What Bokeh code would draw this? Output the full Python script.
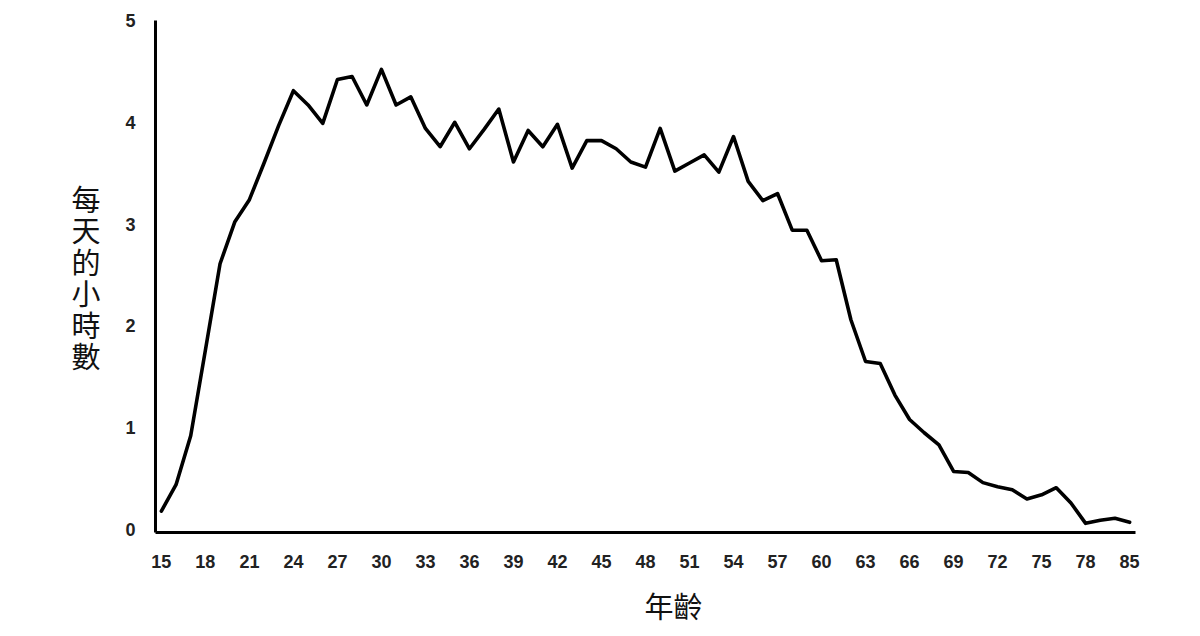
from bokeh.plotting import figure
from bokeh.models import Range1d, FixedTicker, Title
from bokeh.embed import file_html
from bokeh.resources import INLINE

# Data: ages (categories) and hours per day
ages = list(range(15, 81)) + [85]
hours = [
    0.18, 0.44, 0.92, 1.76, 2.61, 3.02, 3.24, 3.60, 3.97, 4.31,
    4.17, 3.99, 4.42, 4.45, 4.17, 4.52, 4.17, 4.25, 3.94, 3.76,
    4.00, 3.74, 3.93, 4.13, 3.61, 3.92, 3.76, 3.98, 3.55, 3.82,
    3.82, 3.74, 3.61, 3.56, 3.94, 3.52, 3.60, 3.68, 3.51, 3.86,
    3.42, 3.23, 3.30, 2.94, 2.94, 2.64, 2.65, 2.06, 1.65, 1.63,
    1.32, 1.08, 0.95, 0.83, 0.57, 0.56, 0.46, 0.42, 0.39, 0.30,
    0.34, 0.41, 0.26, 0.06, 0.09, 0.11, 0.07,
]
y_ticks = [0, 1, 2, 3, 4, 5]
x_label = "年齡"
y_label = "每天的小時數"

idx = list(range(len(ages)))
x_tick_idx = idx[::3]

p = figure(
    width=1200, height=636,
    x_range=Range1d(-0.4, 66.4), y_range=Range1d(-0.03, 5.0),
    output_backend="svg", toolbar_location=None,
    min_border_left=155, min_border_right=65,
    min_border_top=20, min_border_bottom=103,
)
p.outline_line_color = None
p.grid.visible = False
p.background_fill_color = "white"
p.border_fill_color = "white"

p.line(idx, hours, line_width=3.6, line_color="black",
       line_join="round", line_cap="round")

for ax in (p.xaxis[0], p.yaxis[0]):
    ax.axis_line_width = 3
    ax.axis_line_color = "black"
    ax.major_tick_line_color = None
    ax.minor_tick_line_color = None
    ax.major_label_text_font = "Liberation Sans"
    ax.major_label_text_font_style = "bold"
    ax.major_label_text_font_size = "18px"
    ax.major_label_text_color = "#222222"

p.xaxis.ticker = FixedTicker(ticks=x_tick_idx)
p.xaxis.major_label_overrides = {i: str(ages[i]) for i in x_tick_idx}
p.xaxis.major_label_standoff = 16

p.yaxis.ticker = FixedTicker(ticks=y_ticks)
p.yaxis.major_label_standoff = 14
p.yaxis.axis_label = "\n".join(y_label)
p.yaxis.axis_label_orientation = "horizontal"
p.yaxis.axis_label_standoff = 22
p.yaxis.axis_label_text_font = "Noto Sans CJK TC"
p.yaxis.axis_label_text_font_style = "normal"
p.yaxis.axis_label_text_font_size = "29px"
p.yaxis.axis_label_text_line_height = 0.75
p.yaxis.axis_label_text_color = "#111111"

p.add_layout(Title(
    text=x_label, align="left", offset=489, standoff=22,
    text_font="Noto Sans CJK TC", text_font_size="29px",
    text_font_style="normal", text_color="#111111",
), "below")

open("out.html", "w").write(file_html(p, INLINE))
